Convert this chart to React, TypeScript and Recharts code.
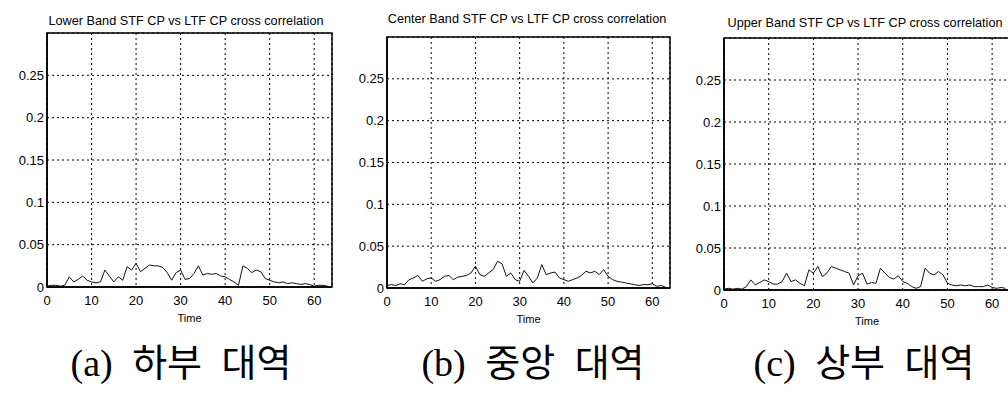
import { LineChart, Line, XAxis, YAxis, CartesianGrid, ReferenceArea } from 'recharts'

// sample index (Time)
const time = [
  0, 1, 2, 3, 4, 5, 6, 7, 8, 9, 10, 11, 12, 13, 14, 15,
  16, 17, 18, 19, 20, 21, 22, 23, 24, 25, 26, 27, 28, 29, 30, 31,
  32, 33, 34, 35, 36, 37, 38, 39, 40, 41, 42, 43, 44, 45, 46, 47,
  48, 49, 50, 51, 52, 53, 54, 55, 56, 57, 58, 59, 60, 61, 62, 63,
]

const lowerBand = [
  0.001, 0.002, 0.002, 0.001, 0.002, 0.012, 0.006, 0.009, 0.013, 0.008, 0.006, 0.005, 0.006, 0.020, 0.013, 0.006,
  0.012, 0.008, 0.024, 0.020, 0.028, 0.018, 0.022, 0.026, 0.025, 0.025, 0.023, 0.017, 0.008, 0.017, 0.020, 0.009,
  0.010, 0.016, 0.025, 0.014, 0.016, 0.015, 0.016, 0.013, 0.012, 0.009, 0.006, 0.002, 0.025, 0.022, 0.017, 0.020,
  0.018, 0.010, 0.008, 0.006, 0.005, 0.006, 0.004, 0.005, 0.004, 0.003, 0.004, 0.003, 0.001, 0.002, 0.002, 0.001,
]

const centerBand = [
  0.003, 0.004, 0.003, 0.005, 0.004, 0.010, 0.012, 0.015, 0.008, 0.011, 0.012, 0.008, 0.010, 0.014, 0.015, 0.010,
  0.013, 0.014, 0.015, 0.018, 0.026, 0.016, 0.014, 0.018, 0.022, 0.032, 0.029, 0.014, 0.018, 0.010, 0.008, 0.021,
  0.014, 0.006, 0.012, 0.028, 0.016, 0.018, 0.019, 0.012, 0.010, 0.008, 0.010, 0.012, 0.015, 0.020, 0.018, 0.020,
  0.016, 0.022, 0.014, 0.010, 0.008, 0.007, 0.006, 0.005, 0.004, 0.003, 0.004, 0.004, 0.005, 0.002, 0.003, 0.001,
]

const upperBand = [
  0.001, 0.002, 0.001, 0.002, 0.001, 0.004, 0.012, 0.006, 0.009, 0.012, 0.010, 0.007, 0.007, 0.010, 0.020, 0.010,
  0.012, 0.008, 0.005, 0.024, 0.020, 0.028, 0.016, 0.020, 0.028, 0.026, 0.024, 0.022, 0.020, 0.006, 0.017, 0.020,
  0.007, 0.009, 0.008, 0.026, 0.020, 0.015, 0.013, 0.017, 0.010, 0.008, 0.004, 0.002, 0.004, 0.026, 0.020, 0.018,
  0.022, 0.018, 0.008, 0.006, 0.005, 0.006, 0.005, 0.006, 0.004, 0.004, 0.004, 0.006, 0.003, 0.002, 0.003, 0.002,
]

const xTicks = [0, 10, 20, 30, 40, 50, 60]
const yTicks = [0, 0.05, 0.1, 0.15, 0.2, 0.25]

const titles = [
  'Lower Band STF CP vs LTF CP cross correlation',
  'Center Band STF CP vs LTF CP cross correlation',
  'Upper Band STF CP vs LTF CP cross correlation',
]
const captions = ['(a) 하부 대역', '(b) 중앙 대역', '(c) 상부 대역']

const tickFont = { fill: '#000', fontSize: 13, fontFamily: "'Liberation Sans Narrow', 'Liberation Sans', Arial, sans-serif" }

type PanelProps = {
  values: number[]
  left: number
  width: number
  top: number
  bottom: number
  right: number
}

function Panel({ values, left, width, top, bottom, right }: PanelProps) {
  const rows = time.map((t, i) => ({ t, v: values[i] }))
  return (
    <div style={{ position: 'absolute', left, top: 0 }}>
      <LineChart width={width} height={bottom + 43} data={rows} margin={{ top, right, bottom: 0, left: 0 }}>
        <CartesianGrid stroke="#000" strokeDasharray="2 3" strokeWidth={1} />
        <XAxis
          dataKey="t"
          type="number"
          domain={[0, 64]}
          ticks={xTicks}
          height={43}
          tick={tickFont}
          tickLine={false}
          tickSize={6}
          tickMargin={3}
          axisLine={{ stroke: '#000', strokeWidth: 1.5 }}
          label={{ value: 'Time', position: 'insideBottom', offset: 8, fill: '#000', fontSize: 11, fontFamily: "'Liberation Sans Narrow', Arial, sans-serif" }}
        />
        <YAxis
          type="number"
          domain={[0, 0.3]}
          ticks={yTicks}
          width={47}
          tick={tickFont}
          tickLine={false}
          tickSize={2}
          tickMargin={1}
          tickFormatter={(v: number) => String(v)}
          axisLine={{ stroke: '#000', strokeWidth: 1.5 }}
        />
        <ReferenceArea x1={0} x2={64} y1={0} y2={0.3} fill="none" stroke="#000" strokeWidth={1.5} ifOverflow="visible" />
        <Line type="linear" dataKey="v" stroke="#111" strokeWidth={1} dot={false} isAnimationActive={false} />
      </LineChart>
    </div>
  )
}

export default function App() {
  const titlePos = [
    { x: 186, y: 21 },
    { x: 527, y: 19 },
    { x: 865, y: 23 },
  ]
  const captionPos = [181, 533, 864]
  return (
    <div style={{ position: 'absolute', left: 0, top: 0, width: 1008, height: 403, overflow: 'hidden', background: '#fff' }}>
      <Panel values={lowerBand} left={0} width={340} top={33} bottom={287} right={8} />
      <Panel values={centerBand} left={340} width={335} top={37} bottom={288} right={5} />
      <Panel values={upperBand} left={677} width={333} top={38} bottom={290} right={0} />
      {titles.map((t, i) => (
        <div
          key={t}
          style={{
            position: 'absolute',
            left: titlePos[i].x - 170,
            top: titlePos[i].y - 8,
            width: 340,
            textAlign: 'center',
            fontFamily: "'Liberation Sans', Arial, sans-serif",
            fontSize: 12.7,
            lineHeight: '16px',
            color: '#000',
            whiteSpace: 'nowrap',
          }}
        >
          {t}
        </div>
      ))}
      {captions.map((c, i) => (
        <div
          key={c}
          style={{
            position: 'absolute',
            left: captionPos[i] - 170,
            top: 339,
            width: 340,
            textAlign: 'center',
            fontFamily: "'Liberation Serif', 'Noto Sans CJK KR', serif",
            fontSize: 38,
            lineHeight: '48px',
            wordSpacing: 10,
            color: '#000',
            whiteSpace: 'nowrap',
          }}
        >
          {c}
        </div>
      ))}
    </div>
  )
}
